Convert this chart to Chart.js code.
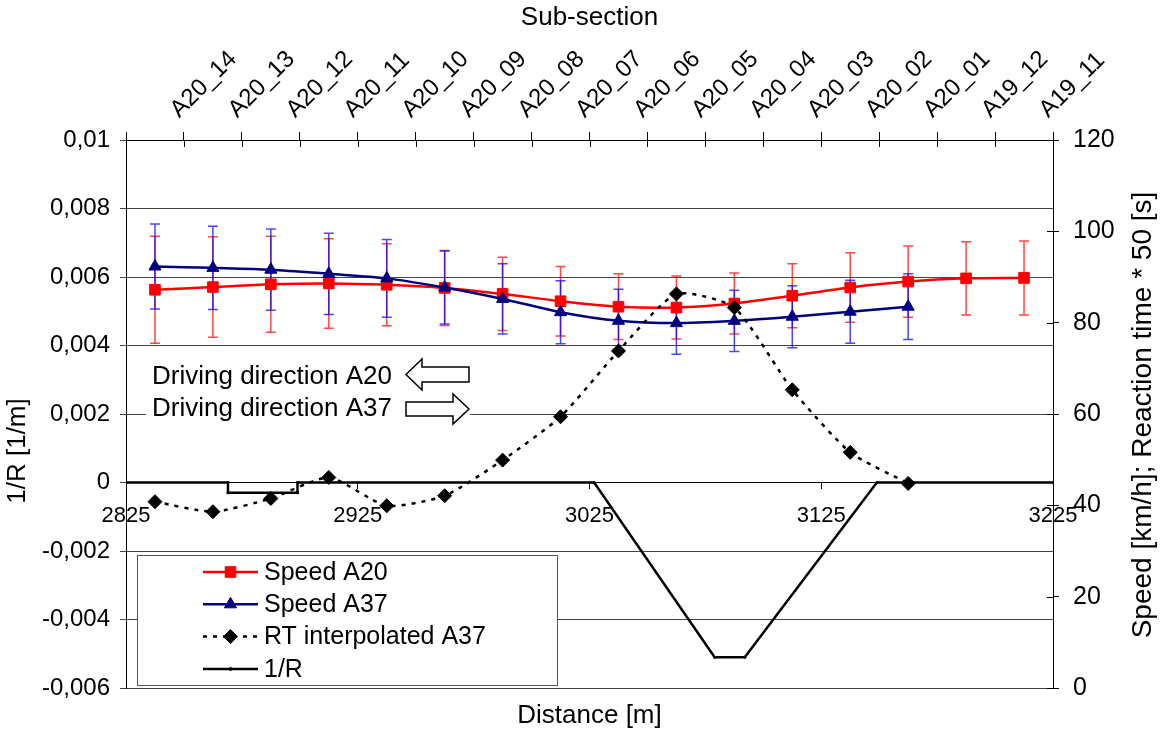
<!DOCTYPE html>
<html><head><meta charset="utf-8">
<script src="https://cdn.jsdelivr.net/npm/chart.js@4.4.0/dist/chart.umd.min.js"></script>
<style>html,body{margin:0;padding:0;background:#fff;}#wrap{width:1160px;height:731px;}</style>
</head><body><div id="wrap"><canvas id="c" width="1160" height="731"></canvas></div>
<script>
// ---- data ----
const subSections = ['A20_14','A20_13','A20_12','A20_11','A20_10','A20_09','A20_08','A20_07','A20_06','A20_05','A20_04','A20_03','A20_02','A20_01','A19_12','A19_11'];
const distanceTicks = [2825, 2925, 3025, 3125, 3225];
const curvatureTicks = [-0.006, -0.004, -0.002, 0, 0.002, 0.004, 0.006, 0.008, 0.01];
const speedTicks = [0, 20, 40, 60, 80, 100, 120];
const speedA20 = [87.2, 87.8, 88.4, 88.6, 88.3, 87.6, 86.3, 84.7, 83.5, 83.3, 84.2, 85.9, 87.7, 89.0, 89.7, 89.8];
const speedA20Err = [11.7, 11.0, 10.5, 9.8, 9.0, 8.2, 8.0, 7.6, 7.2, 6.9, 6.7, 7.0, 7.6, 7.8, 8.0, 8.1];
const speedA37 = [92.3, 92.0, 91.6, 90.7, 89.7, 87.7, 85.2, 82.3, 80.4, 79.9, 80.4, 81.3, 82.4, 83.5];
const speedA37Err = [9.3, 9.1, 8.9, 8.9, 8.5, 8.0, 7.7, 6.9, 6.9, 6.8, 6.7, 6.8, 6.9, 7.2];
const rtA37 = [40.8, 38.6, 41.5, 46.1, 39.9, 42.1, 49.9, 59.4, 73.8, 86.3, 83.3, 65.3, 51.6, 44.8];
const curvDistance = [2825, 2869, 2869, 2899, 2899, 3027, 3079, 3092, 3149, 3225];
const curvValue = [0, 0, -0.0003, -0.0003, 0, 0, -0.0051, -0.0051, 0, 0];

const FF = "'Liberation Sans', Arial, Helvetica, sans-serif";
Chart.defaults.font.family = FF;
Chart.defaults.color = '#000';

const errorBars = {
  id: 'errorBars',
  beforeDatasetsDraw(chart) {
    const ctx = chart.ctx, xs = chart.scales.xTop, ys = chart.scales.y2;
    const sets = [
      {vals: speedA20, errs: speedA20Err, color: 'rgba(255,0,0,0.72)'},
      {vals: speedA37, errs: speedA37Err, color: 'rgba(0,0,255,0.72)'}
    ];
    ctx.save();
    ctx.lineWidth = 1.5;
    sets.forEach(s => {
      ctx.strokeStyle = s.color;
      s.vals.forEach((v, i) => {
        const x = xs.getPixelForValue(i);
        const yt = ys.getPixelForValue(v + s.errs[i]);
        const yb = ys.getPixelForValue(v - s.errs[i]);
        ctx.beginPath();
        ctx.moveTo(x, yt); ctx.lineTo(x, yb);
        ctx.moveTo(x - 5, yt); ctx.lineTo(x + 5, yt);
        ctx.moveTo(x - 5, yb); ctx.lineTo(x + 5, yb);
        ctx.stroke();
      });
    });
    ctx.restore();
  }
};

const extras = {
  id: 'extras',
  afterDatasetsDraw(chart) {
    const ctx = chart.ctx, ca = chart.chartArea;
    ctx.save();
    // crossing ticks (inner halves) on top and right axes
    ctx.strokeStyle = '#000'; ctx.lineWidth = 1;
    const top = chart.scales.xTop;
    for (let i = 0; i <= subSections.length; i++) {
      const x = Math.round(top.getPixelForValue(i - 0.5)) + 0.5;
      ctx.beginPath(); ctx.moveTo(x, ca.top); ctx.lineTo(x, ca.top + 7); ctx.stroke();
    }
    const y2 = chart.scales.y2;
    speedTicks.forEach(v => {
      const y = Math.round(y2.getPixelForValue(v)) + 0.5;
      ctx.beginPath(); ctx.moveTo(ca.right - 6, y); ctx.lineTo(ca.right, y); ctx.stroke();
    });

    // driving direction annotation
    const L = ca.left;
    ctx.fillStyle = '#fff';
    ctx.fillRect(L + 20, 354, 324, 76);
    ctx.fillStyle = '#000';
    ctx.font = '26px ' + FF;
    ctx.textBaseline = 'alphabetic'; ctx.textAlign = 'left';
    ctx.fillText('Driving direction A20', L + 26, 384);
    ctx.fillText('Driving direction A37', L + 26, 416);
    ctx.lineWidth = 1.5; ctx.strokeStyle = '#000'; ctx.fillStyle = '#fff';
    // left arrow
    let ax = L + 280;
    ctx.beginPath();
    ctx.moveTo(ax, 374.5); ctx.lineTo(ax + 16, 359); ctx.lineTo(ax + 16, 367);
    ctx.lineTo(ax + 63, 367); ctx.lineTo(ax + 63, 382); ctx.lineTo(ax + 16, 382);
    ctx.lineTo(ax + 16, 390); ctx.closePath(); ctx.fill(); ctx.stroke();
    // right arrow
    ctx.beginPath();
    ctx.moveTo(ax + 63, 409); ctx.lineTo(ax + 47, 394); ctx.lineTo(ax + 47, 402);
    ctx.lineTo(ax, 402); ctx.lineTo(ax, 416); ctx.lineTo(ax + 47, 416);
    ctx.lineTo(ax + 47, 424); ctx.closePath(); ctx.fill(); ctx.stroke();

    // legend
    ctx.lineWidth = 1; ctx.strokeStyle = '#555'; ctx.fillStyle = '#fff';
    ctx.fillRect(L + 11, 555, 420, 130);
    ctx.strokeRect(L + 11.5, 555.5, 420, 130);
    const order = [0, 1, 2, 3];
    ctx.font = '25px ' + FF;
    ctx.textBaseline = 'middle';
    order.forEach((di, k) => {
      const ds = chart.data.datasets[di];
      const y = 572 + k * 32.3;
      ctx.save();
      ctx.strokeStyle = ds.borderColor; ctx.lineWidth = ds.borderWidth;
      ctx.setLineDash(ds.borderDash || []);
      ctx.beginPath(); ctx.moveTo(L + 77, y); ctx.lineTo(L + 132, y); ctx.stroke();
      ctx.setLineDash([]);
      ctx.fillStyle = ds.pointBackgroundColor; ctx.strokeStyle = ds.pointBorderColor;
      ctx.lineWidth = 1;
      Chart.helpers.drawPoint(ctx, {pointStyle: ds.pointStyle, radius: ds.pointRadius, rotation: 0, borderWidth: 1}, L + 104.5, y);
      ctx.restore();
      ctx.fillStyle = '#000';
      ctx.fillText(ds.label, L + 138, y + 1);
    });

    // axis titles
    ctx.textAlign = 'center'; ctx.textBaseline = 'middle';
    ctx.font = '26px ' + FF;
    ctx.fillText('Distance [m]', (ca.left + ca.right) / 2, 716);
    ctx.save(); ctx.translate(18, 451); ctx.rotate(-Math.PI / 2);
    ctx.fillText('1/R [1/m]', 0, 0); ctx.restore();
    ctx.font = '28px ' + FF;
    ctx.save(); ctx.translate(1143, 415); ctx.rotate(-Math.PI / 2);
    ctx.fillText('Speed [km/h]; Reaction time * 50 [s]', 0, 0); ctx.restore();
    ctx.restore();
  }
};

new Chart(document.getElementById('c'), {
  type: 'line',
  data: {
    datasets: [
      {label: 'Speed A20', data: speedA20, xAxisID: 'xTop', yAxisID: 'y2', order: 2,
       borderColor: '#ff0000', borderWidth: 2.5, tension: 0.3,
       pointStyle: 'rect', pointRadius: 7.5, pointBackgroundColor: '#ff0000', pointBorderColor: '#ff0000', pointBorderWidth: 1},
      {label: 'Speed A37', data: speedA37, xAxisID: 'xTop', yAxisID: 'y2', order: 1,
       borderColor: '#000080', borderWidth: 2.5, tension: 0.3,
       pointStyle: 'triangle', pointRadius: 7, pointBackgroundColor: '#000080', pointBorderColor: '#000080', pointBorderWidth: 1},
      {label: 'RT interpolated A37', data: rtA37, xAxisID: 'xTop', yAxisID: 'y2', order: 0,
       borderColor: '#000', borderWidth: 2.5, borderDash: [4, 6], tension: 0.2,
       pointStyle: 'rectRot', pointRadius: 7, pointBackgroundColor: '#000', pointBorderColor: '#000', pointBorderWidth: 1},
      {label: '1/R', data: curvDistance.map((d, i) => ({x: d, y: curvValue[i]})), xAxisID: 'x', yAxisID: 'y', order: 3,
       borderColor: '#000', borderWidth: 2.5, tension: 0,
       pointStyle: 'circle', pointRadius: 1.5, pointBackgroundColor: '#000', pointBorderColor: '#000', pointBorderWidth: 0}
    ]
  },
  options: {
    responsive: false, animation: false, devicePixelRatio: 1,
    layout: {padding: {left: 0, right: 0, top: 0, bottom: 43}},
    plugins: {
      legend: {display: false}, tooltip: {enabled: false}, title: {display: false}
    },
    scales: {
      x: {type: 'linear', position: {y: 0}, min: 2825, max: 3225,
          afterBuildTicks: s => { s.ticks = distanceTicks.map(v => ({value: v})); },
          ticks: {font: {size: 22}, color: '#000', padding: 14, maxRotation: 0, callback: v => String(v)},
          grid: {drawOnChartArea: false, drawTicks: true, tickLength: 6, color: '#000'},
          border: {display: true, color: '#000', width: 1}},
      y: {type: 'linear', position: 'left', min: -0.006, max: 0.01,
          afterBuildTicks: s => { s.ticks = curvatureTicks.map(v => ({value: v})); },
          afterFit: s => { s.width = 126; },
          ticks: {font: {size: 24}, color: '#000', padding: 10, callback: v => String(v).replace('.', ',')},
          grid: {color: '#444', lineWidth: 1, tickLength: 6},
          border: {color: '#000', width: 1},
          title: {display: false}},
      y2: {type: 'linear', position: 'right', min: 0, max: 120,
           afterBuildTicks: s => { s.ticks = speedTicks.map(v => ({value: v})); },
           afterFit: s => { s.width = 107; },
           ticks: {font: {size: 25}, color: '#000', padding: 14},
           grid: {drawOnChartArea: false, tickLength: 6, color: '#000'},
           border: {color: '#000', width: 1},
           title: {display: false}},
      xTop: {type: 'category', labels: subSections, position: 'top', offset: true,
             afterFit: s => { s.height = 140; },
             ticks: {autoSkip: false, minRotation: 45, maxRotation: 45, font: {size: 24}, color: '#000', padding: 8, labelOffset: 40},
             grid: {drawOnChartArea: false, tickLength: 8, color: '#000', offset: true},
             border: {color: '#000', width: 1},
             title: {display: true, text: 'Sub-section', font: {size: 26}, color: '#000', padding: {top: 2, bottom: 0}}}
    }
  },
  plugins: [errorBars, extras]
});
</script></body></html>
